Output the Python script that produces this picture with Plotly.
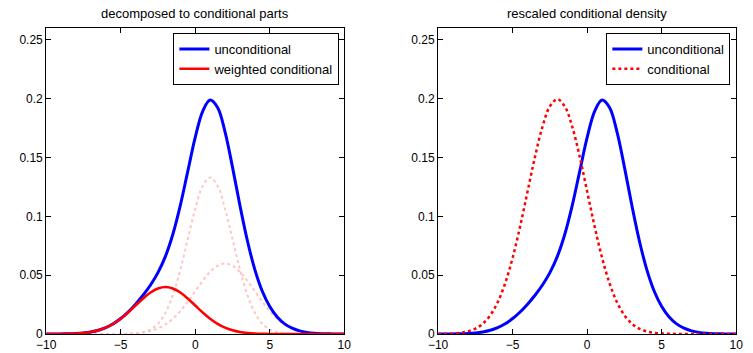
import plotly.graph_objects as go

x = [-10, -9.5, -9, -8.5, -8, -7.5, -7, -6.5, -6, -5.5, -5, -4.5, -4, -3.5, -3, -2.5, -2, -1.5, -1, -0.5,
     0, 0.5, 1, 1.5, 2, 2.5, 3, 3.5, 4, 4.5, 5, 5.5, 6, 6.5, 7, 7.5, 8, 8.5, 9, 9.5, 10]

unconditional = [0.0000134, 0.0000353, 0.0000876, 0.000204, 0.000443, 0.000910, 0.001755, 0.003183, 0.005422,
                 0.008694, 0.013131, 0.018730, 0.025378, 0.032957, 0.041639, 0.052172, 0.065990, 0.084780,
                 0.109309, 0.138163, 0.166969, 0.189232, 0.198744, 0.192426, 0.171716, 0.141825, 0.109230,
                 0.079241, 0.054728, 0.036336, 0.023316, 0.014456, 0.008625, 0.004928, 0.002675, 0.001375,
                 0.000668, 0.000304, 0.000131, 0.0000529, 0.0000201]

weighted_conditional = [0.0000134, 0.0000353, 0.0000873, 0.000203, 0.000443, 0.000909, 0.001753, 0.003176,
                        0.005399, 0.008630, 0.012955, 0.018266, 0.024199, 0.030116, 0.035211, 0.038671,
                        0.039900, 0.038671, 0.035211, 0.030116, 0.024199, 0.018266, 0.012955, 0.008630,
                        0.005399, 0.003176, 0.001753, 0.000909, 0.000443, 0.000203, 0.0000873, 0.0000353,
                        0.0000134, 0.0000051, 0.0000016, 0, 0, 0, 0, 0, 0]

other_part_1 = [0, 0, 0, 0, 0, 0, 0, 0, 0.0000025, 0.0000111, 0.0000446, 0.00016, 0.000514, 0.001477, 0.003799,
                0.008738, 0.017992, 0.033165, 0.054668, 0.080652, 0.106477, 0.125799, 0.132980, 0.125799,
                0.106477, 0.080652, 0.054668, 0.033165, 0.017992, 0.008738, 0.003799, 0.001477, 0.000514,
                0.00016, 0.0000446, 0.0000111, 0.0000025, 0, 0, 0, 0]

other_part_2 = [0, 0, 0, 0.0000001, 0.0000002, 0.0000008, 0.0000024, 0.0000071, 0.0000201, 0.0000529, 0.000131,
                0.000304, 0.000665, 0.001364, 0.002629, 0.004763, 0.008098, 0.012944, 0.019430, 0.027395,
                0.036293, 0.045167, 0.052809, 0.057997, 0.059840, 0.057997, 0.052809, 0.045167, 0.036293,
                0.027395, 0.019430, 0.012944, 0.008098, 0.004763, 0.002629, 0.001364, 0.000665, 0.000304,
                0.000131, 0.0000529, 0.0000201]

conditional = [0.000067, 0.000177, 0.000437, 0.001015, 0.002216, 0.004545, 0.008764, 0.015880, 0.026995,
               0.043150, 0.064775, 0.091330, 0.120995, 0.150580, 0.176055, 0.193355, 0.199500, 0.193355,
               0.176055, 0.150580, 0.120995, 0.091330, 0.064775, 0.043150, 0.026995, 0.015880, 0.008764,
               0.004545, 0.002216, 0.001015, 0.000437, 0.000177, 0.000067, 0.000026, 0.000008, 0, 0, 0, 0, 0, 0]

titles = ["decomposed to conditional parts", "rescaled conditional density"]
ytick_vals = [0, 0.05, 0.1, 0.15, 0.2, 0.25]
ytick_text = ["0", "0.05", "0.1", "0.15", "0.2", "0.25"]
xtick_vals = [-10, -5, 0, 5, 10]
xtick_text = ["\u221210", "\u22125", "0", "5", "10"]

BLUE = "#0000ff"
RED = "#ff0000"
PINK = "#ffc4c4"
FONT = "Liberation Sans, Arial, sans-serif"

fig = go.Figure()

# Left panel
fig.add_trace(go.Scatter(x=x, y=other_part_1, mode="lines", line=dict(color=PINK, width=2, dash="dot", shape="spline"),
                         showlegend=False, xaxis="x", yaxis="y"))
fig.add_trace(go.Scatter(x=x, y=other_part_2, mode="lines", line=dict(color=PINK, width=2, dash="dot", shape="spline"),
                         showlegend=False, xaxis="x", yaxis="y"))
fig.add_trace(go.Scatter(x=x, y=unconditional, mode="lines", name="unconditional",
                         line=dict(color=BLUE, width=3, shape="spline"), xaxis="x", yaxis="y", legend="legend"))
fig.add_trace(go.Scatter(x=x, y=weighted_conditional, mode="lines", name="weighted conditional",
                         line=dict(color=RED, width=2.5, shape="spline"), xaxis="x", yaxis="y", legend="legend"))

# Right panel
fig.add_trace(go.Scatter(x=x, y=unconditional, mode="lines", name="unconditional",
                         line=dict(color=BLUE, width=3, shape="spline"), xaxis="x2", yaxis="y2", legend="legend2"))
fig.add_trace(go.Scatter(x=x, y=conditional, mode="lines", name="conditional",
                         line=dict(color=RED, width=2.5, dash="dot", shape="spline"), xaxis="x2", yaxis="y2",
                         legend="legend2"))

W, H = 753, 353
L1, R1 = 37, 342
L2, R2 = 438, 743
TOP, BOT = 28, 334

axis_common = dict(showline=True, linecolor="black", linewidth=1, mirror="ticks", ticks="inside", ticklen=5,
                   tickcolor="black", showgrid=False, zeroline=False,
                   tickfont=dict(family=FONT, size=12, color="black"))

legend_common = dict(y=1 - 5 / (BOT - TOP), xanchor="right", yanchor="top", bgcolor="white",
                     bordercolor="black", borderwidth=1, itemwidth=30, tracegroupgap=0,
                     font=dict(family=FONT, size=13, color="black"))

fig.update_layout(
    width=W, height=H,
    margin=dict(l=0, r=0, t=TOP, b=H - BOT),
    paper_bgcolor="white", plot_bgcolor="white",
    xaxis=dict(domain=[L1 / W, R1 / W], range=[-10, 10], tickvals=xtick_vals, ticktext=xtick_text, anchor="y",
               **axis_common),
    yaxis=dict(domain=[0, 1], range=[0, 0.26], tickvals=ytick_vals, ticktext=ytick_text, anchor="x",
               **axis_common),
    xaxis2=dict(domain=[L2 / W, R2 / W], range=[-10, 10], tickvals=xtick_vals, ticktext=xtick_text, anchor="y2",
                **axis_common),
    yaxis2=dict(domain=[0, 1], range=[0, 0.26], tickvals=ytick_vals, ticktext=ytick_text, anchor="x2",
                **axis_common),
    legend=dict(x=337 / W, **legend_common),
    legend2=dict(x=737 / W, **legend_common),
    annotations=[
        dict(text=titles[0], x=(L1 + R1) / 2 / W, y=1, xref="paper", yref="paper", yshift=5, xanchor="center",
             yanchor="bottom", showarrow=False, font=dict(family=FONT, size=13, color="black")),
        dict(text=titles[1], x=(L2 + R2) / 2 / W, y=1, xref="paper", yref="paper", yshift=5, xanchor="center",
             yanchor="bottom", showarrow=False, font=dict(family=FONT, size=13, color="black")),
    ],
)

fig.write_html("out.html")
